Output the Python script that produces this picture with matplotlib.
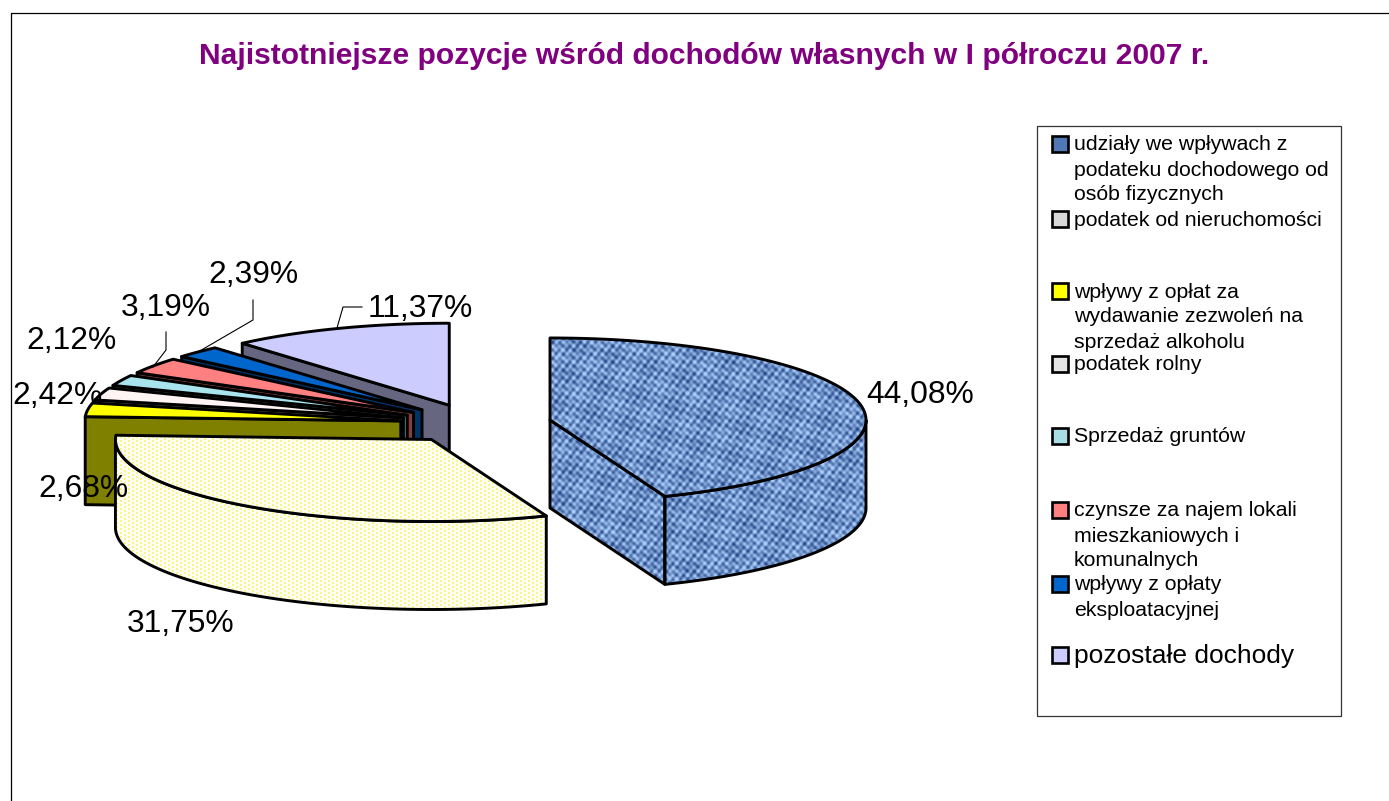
import numpy as np
import matplotlib
matplotlib.use('Agg')
import matplotlib.pyplot as plt
from matplotlib.patches import Polygon, Rectangle

plt.rcParams['font.family'] = ['Liberation Sans', 'DejaVu Sans']

W, H = 1389, 801

# Data, clockwise from 12 o'clock
values = [44.08, 31.75, 2.68, 2.42, 2.12, 3.19, 2.39, 11.37]
value_labels = ['44,08%', '31,75%', '2,68%', '2,42%', '2,12%', '3,19%', '2,39%', '11,37%']
legend_labels = [
    'udziały we wpływach z\npodateku dochodowego od\nosób fizycznych',
    'podatek od nieruchomości',
    'wpływy z opłat za\nwydawanie zezwoleń na\nsprzedaż alkoholu',
    'podatek rolny',
    'Sprzedaż gruntów',
    'czynsze za najem lokali\nmieszkaniowych i\nkomunalnych',
    'wpływy z opłaty\neksploatacyjnej',
    'pozostałe dochody',
]
title = 'Najistotniejsze pozycje wśród dochodów własnych w I półroczu 2007 r.'

# Styles
top_colors = ['#7099D2', '#FFFFF2', '#FFFF00', '#FFF4F4', '#A9E4EE', '#FF8080', '#0066CC', '#CCCCFF']
side_colors = ['#7099D2', '#FFFFF2', '#808000', '#807070', '#558088', '#804040', '#003366', '#666680']
swatch_colors = ['#4F78B4', '#D8D8D8', '#FFFF00', '#E4E4E4', '#A9DDE6', '#FF8080', '#0066CC', '#CCCCFF']
label_pos = [(920, 395), (181, 624), (83, 489), (57, 396), (71, 341), (166, 308), (253, 275), (420, 309)]
leader_lines = {
    5: ([153, 166, 166], [367, 350, 332]),
    6: ([198, 253, 253], [352, 320, 300]),
    7: ([337, 343, 362], [328, 307, 307]),
}
legend_y = [145, 220, 292, 365, 437, 511, 585, 656]

# Pie geometry in pixels
cx, cy = 475.7, 423.6
rx, ry = 316, 82
explode = 75.6
depth = 88
lw = 2.1


def denim():
    # woven look, repeated sine threads
    yy, xx = np.mgrid[0:H, 0:W]
    a = np.sin(xx * 2 * np.pi / 7.1) * np.sin(yy * 2 * np.pi / 7.9)
    b = np.sin(xx * 0.23 + yy * 0.57) * np.sin(xx * 0.49 - yy * 0.19)
    c = np.sin(xx * 0.11 - yy * 0.07) * np.sin(xx * 0.05 + yy * 0.13)
    t = np.clip(0.55 + 0.38 * a + 0.3 * b + 0.12 * c, 0, 1)[..., None]
    return np.array([0.17, 0.30, 0.55]) * (1 - t) + np.array([0.66, 0.80, 0.98]) * t


def dots():
    yy, xx = np.mgrid[0:H, 0:W]
    img = np.ones((H, W, 3)) * np.array([1.0, 1.0, 0.95])
    img[(xx % 4 < 2) & ((yy + (xx // 4) % 2 * 2) % 4 < 2)] = [0.99, 0.95, 0.55]
    return img


textures = {0: denim(), 1: dots()}

fig = plt.figure(figsize=(W / 100, H / 100), dpi=100)
ax = fig.add_axes([0, 0, 1, 1])
ax.set_xlim(0, W)
ax.set_ylim(H, 0)
ax.axis('off')

# Chart frame, open at the bottom
ax.plot([11, 11, W], [H, 13, 13], color='black', lw=0.9, zorder=1)


def ellipse_pts(x0, y0, a1, a2, n=80):
    t = np.radians(np.linspace(a1, a2, n))
    return np.column_stack([x0 + rx * np.sin(t), y0 - ry * np.cos(t)])


def draw_part(pts, idx, color, z):
    if idx in textures:
        p = Polygon(pts, closed=True, facecolor='none', edgecolor='none', zorder=z)
        ax.add_patch(p)
        im = ax.imshow(textures[idx], extent=(0, W, H, 0), interpolation='bilinear',
                       zorder=z, aspect='auto')
        im.set_clip_path(p)
    ax.add_patch(Polygon(pts, closed=True, facecolor='none' if idx in textures else color,
                         edgecolor='black', lw=lw, joinstyle='round', zorder=z + 0.01))


edges = np.cumsum([0] + values) * 3.6
mids = (edges[:-1] + edges[1:]) / 2
# back to front
order = np.argsort(-np.cos(np.radians(mids)))
for n, i in enumerate(order):
    a1, a2 = edges[i], edges[i + 1]
    x0 = cx + explode * np.sin(np.radians(mids[i]))
    y0 = cy - explode * ry / rx * np.cos(np.radians(mids[i]))
    z = 2 + n

    # cut faces that look towards the viewer
    for a, vis in ((a1, np.sin(np.radians(a1)) < -1e-6), (a2, np.sin(np.radians(a2)) > 1e-6)):
        if vis:
            o = ellipse_pts(x0, y0, a, a, 1)[0]
            draw_part(np.array([[x0, y0], o, o + [0, depth], [x0, y0 + depth]]),
                      i, side_colors[i], z)

    # outer wall, front half only
    w1, w2 = max(a1, 90), min(a2, 270)
    if w2 > w1:
        arc = ellipse_pts(x0, y0, w1, w2)
        draw_part(np.vstack([arc, arc[::-1] + [0, depth]]), i, side_colors[i], z)

    # top
    draw_part(np.vstack([[x0, y0], ellipse_pts(x0, y0, a1, a2)]), i, top_colors[i], z + 0.1)

ax.set_xlim(0, W)
ax.set_ylim(H, 0)

ax.text(704, 56, title, color='#800080', fontsize=21.6, fontweight='bold',
        ha='center', va='center', zorder=30)

for i, lab in enumerate(value_labels):
    ax.text(label_pos[i][0], label_pos[i][1], lab, fontsize=22.9, color='black',
            ha='center', va='center', zorder=30)
for xs, ys in leader_lines.values():
    ax.plot(xs, ys, color='black', lw=0.8, zorder=29)

# Legend
ax.add_patch(Rectangle((1037, 126), 304, 590, facecolor='white', edgecolor='#333333', lw=0.9, zorder=30))
for i, lab in enumerate(legend_labels):
    big = i == len(legend_labels) - 1
    for k, line in enumerate(lab.split('\n')):
        ax.text(1074, legend_y[i] + k * 25, line, fontsize=19 if big else 15.3,
                color='black', ha='left', va='center', zorder=31)
    ax.add_patch(Rectangle((1052, legend_y[i] - 9), 16, 16, facecolor=swatch_colors[i],
                           edgecolor='black', lw=1.9, zorder=31))

fig.savefig('out.png', dpi=100)
